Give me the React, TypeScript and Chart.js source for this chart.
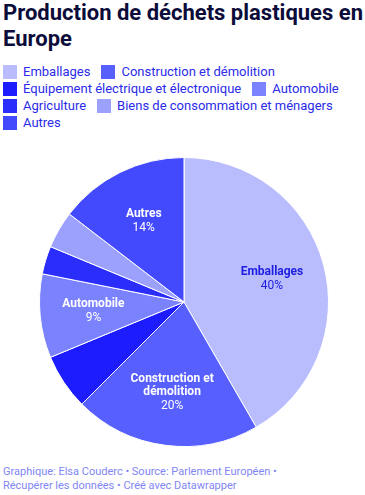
import React, { useEffect, useRef } from "react";
import { Chart, registerables } from "chart.js";

Chart.register(...registerables);

const categories = [
  "Emballages",
  "Construction et démolition",
  "Équipement électrique et électronique",
  "Automobile",
  "Agriculture",
  "Biens de consommation et ménagers",
  "Autres",
];
const values = [40, 20, 6, 9, 3, 4, 14];
const colors = ["#b9bdfd", "#5760fe", "#1c1cfe", "#7b82fe", "#2b2efa", "#9ca1fe", "#434afe"];
const labelLines: (string[] | null)[] = [
  ["Emballages"],
  ["Construction et", "démolition"],
  null,
  ["Automobile"],
  null,
  null,
  ["Autres"],
];
const labelColors = ["#1e1ee0", "#ffffff", "#ffffff", "#ffffff", "#ffffff", "#ffffff", "#ffffff"];
const legendRows = [[0, 1], [2, 3], [4, 5], [6]];

const FONT = "Roboto, 'Noto Sans', sans-serif";

const labelPlugin = {
  id: "sliceLabels",
  afterDatasetsDraw(chart: any) {
    const ctx = chart.ctx;
    const meta = chart.getDatasetMeta(0);
    meta.data.forEach((arc: any, i: number) => {
      const lines = labelLines[i];
      if (!lines) return;
      const { x, y, startAngle, endAngle, outerRadius } = arc.getProps(
        ["x", "y", "startAngle", "endAngle", "outerRadius"],
        true
      );
      const mid = (startAngle + endAngle) / 2;
      const r = outerRadius * 0.63;
      const cx = x + Math.cos(mid) * r;
      const cy = y + Math.sin(mid) * r;
      const lh = 13;
      const all = [...lines, values[i] + "%"];
      const total = (all.length - 1) * lh;
      ctx.save();
      ctx.textAlign = "center";
      ctx.textBaseline = "middle";
      ctx.fillStyle = labelColors[i];
      all.forEach((t, k) => {
        const isVal = k === all.length - 1;
        ctx.font = (isVal ? "400 " : "700 ") + "12px " + FONT;
        ctx.fillText(t, cx, cy - total / 2 + k * lh + (isVal ? 1 : 0));
      });
      ctx.restore();
    });
  },
};

export default function App() {
  const ref = useRef<HTMLCanvasElement>(null);
  useEffect(() => {
    if (!ref.current) return;
    const chart = new Chart(ref.current, {
      type: "pie",
      data: {
        labels: categories,
        datasets: [
          {
            data: values,
            backgroundColor: colors,
            borderColor: "#ffffff",
            borderWidth: 1,
          },
        ],
      },
      options: {
        animation: false,
        responsive: false,
        maintainAspectRatio: false,
        layout: { padding: { left: 3, right: 0, top: 0, bottom: 0 } },
        plugins: {
          legend: { display: false },
          tooltip: { enabled: false },
          title: { display: false },
        },
      },
      plugins: [labelPlugin],
    });
    return () => chart.destroy();
  }, []);

  return (
    <div
      style={{
        position: "absolute",
        left: 0,
        top: 0,
        width: 365,
        height: 495,
        overflow: "hidden",
        background: "#ffffff",
        fontFamily: FONT,
      }}
    >
      <div
        style={{
          position: "absolute",
          left: 3,
          top: 0,
          fontSize: 22,
          fontWeight: 700,
          lineHeight: "26px",
          color: "#0c0c3a",
          whiteSpace: "nowrap",
        }}
      >
        Production de déchets plastiques en
        <br />
        Europe
      </div>
      <div style={{ position: "absolute", left: 3, top: 63 }}>
        {legendRows.map((row, ri) => (
          <div key={ri} style={{ display: "flex", height: 17, alignItems: "center" }}>
            {row.map((idx) => (
              <div key={idx} style={{ display: "flex", alignItems: "center", marginRight: 11 }}>
                <span
                  style={{
                    display: "inline-block",
                    width: 14,
                    height: 14,
                    background: colors[idx],
                    marginRight: 6,
                  }}
                />
                <span style={{ fontSize: 13, color: "#2b2be8", whiteSpace: "nowrap" }}>
                  {categories[idx]}
                </span>
              </div>
            ))}
          </div>
        ))}
      </div>
      <canvas
        ref={ref}
        width={365}
        height={290}
        style={{ position: "absolute", left: 0, top: 157, width: 365, height: 290 }}
      />
      <div
        style={{
          position: "absolute",
          left: 3,
          top: 465,
          fontSize: 11,
          lineHeight: "14px",
          color: "#7f86f4",
        }}
      >
        Graphique: Elsa Couderc • Source: Parlement Européen •
        <br />
        Récupérer les données • Créé avec Datawrapper
      </div>
    </div>
  );
}
